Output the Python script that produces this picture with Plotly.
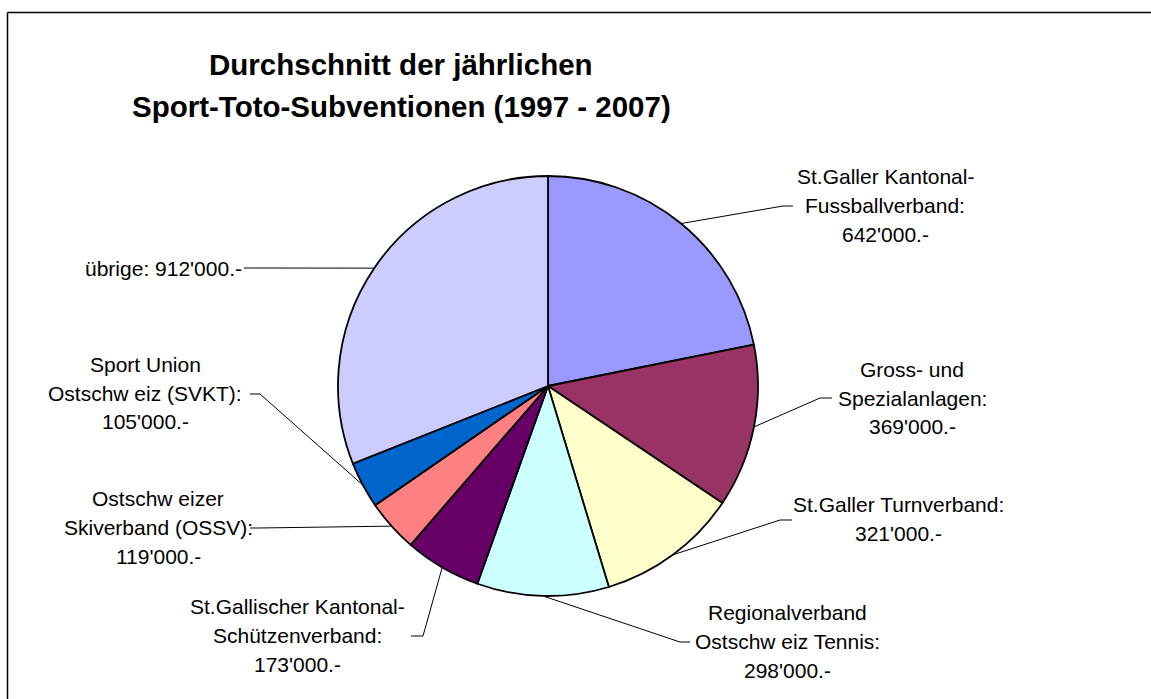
import math
import plotly.graph_objects as go

W, H = 1151, 699

# ---- data ----
categories = [
    "St.Galler Kantonal-Fussballverband",
    "Gross- und Spezialanlagen",
    "St.Galler Turnverband",
    "Regionalverband Ostschweiz Tennis",
    "St.Gallischer Kantonal-Schützenverband",
    "Ostschweizer Skiverband (OSSV)",
    "Sport Union Ostschweiz (SVKT)",
    "übrige",
]
values = [642000, 369000, 321000, 298000, 173000, 119000, 105000, 912000]
label_lines = [
    ["St.Galler Kantonal-", "Fussballverband:", "642'000.-"],
    ["Gross- und", "Spezialanlagen:", "369'000.-"],
    ["St.Galler Turnverband:", "321'000.-"],
    ["Regionalverband", "Ostschw eiz Tennis:", "298'000.-"],
    ["St.Gallischer Kantonal-", "Schützenverband:", "173'000.-"],
    ["Ostschw eizer", "Skiverband (OSSV):", "119'000.-"],
    ["Sport Union", "Ostschw eiz (SVKT):", "105'000.-"],
    ["übrige: 912'000.-"],
]
colors = ["#9999FF", "#993366", "#FFFFCC", "#CCFFFF",
          "#660066", "#FF8080", "#0066CC", "#CCCCFF"]
title_lines = ["Durchschnitt der jährlichen", "Sport-Toto-Subventionen (1997 - 2007)"]

# ---- layout constants (pixels) ----
CX, CY, R = 548, 386, 210
# label placement: (x, first line y, x anchor)
label_pos = [
    (885, 176, "center"),
    (912, 369, "center"),
    (898, 504, "center"),
    (787, 612, "center"),
    (298, 606, "center"),
    (158, 498, "center"),
    (145, 364, "center"),
    (244, 268, "right"),
]
# leader line elbow points and horizontal end points
leader_elbow = [
    (783, 206), (820, 398), (780, 520), (680, 642),
    (423, 636), (258, 528), (260, 394), (244, 268),
]
leader_end = [
    (793, 206), (832, 398), (792, 520), (690, 642),
    (411, 636), (250, 528), (250, 394), (244, 268),
]
LINE_H = 29

def px(x):
    return x / W

def py(y):
    return 1 - y / H

fig = go.Figure()
fig.add_trace(go.Pie(
    labels=categories,
    values=values,
    sort=False,
    direction="clockwise",
    rotation=0,
    marker=dict(colors=colors, line=dict(color="black", width=1.8)),
    textinfo="none",
    hoverinfo="label+value",
    showlegend=False,
    domain=dict(x=[px(CX - R), px(CX + R)], y=[py(CY + R), py(CY - R)]),
))

shapes = []
annotations = []

# frame (top and left edges visible)
shapes.append(dict(type="line", xref="paper", yref="paper",
                   x0=px(7.5), x1=1.0, y0=py(12.5), y1=py(12.5),
                   line=dict(color="black", width=1.5)))
shapes.append(dict(type="line", xref="paper", yref="paper",
                   x0=px(7.5), x1=px(7.5), y0=py(12.5), y1=0.0,
                   line=dict(color="black", width=1.5)))

total = sum(values)
cum = 0
for i, v in enumerate(values):
    mid = (cum + v / 2) / total * 2 * math.pi
    cum += v
    ex = CX + R * math.sin(mid)
    ey = CY - R * math.cos(mid)
    bx, by = leader_elbow[i]
    hx, hy = leader_end[i]
    path = f"M {px(ex)},{py(ey)} L {px(bx)},{py(by)} L {px(hx)},{py(hy)}"
    shapes.append(dict(type="path", xref="paper", yref="paper", path=path,
                       line=dict(color="black", width=1)))
    lx, ly, anchor = label_pos[i]
    for j, t in enumerate(label_lines[i]):
        annotations.append(dict(
            x=px(lx), y=py(ly + j * LINE_H), xref="paper", yref="paper",
            text=t, showarrow=False, xanchor=anchor, yanchor="middle",
            font=dict(family="Liberation Sans, Arial, sans-serif", size=21, color="black"),
        ))

for j, t in enumerate(title_lines):
    annotations.append(dict(
        x=px(401), y=py(65 + j * 41), xref="paper", yref="paper",
        text=f"<b>{t}</b>", showarrow=False, xanchor="center", yanchor="middle",
        font=dict(family="Liberation Sans, Arial, sans-serif", size=29.5, color="black"),
    ))

fig.update_layout(
    width=W, height=H,
    margin=dict(l=0, r=0, t=0, b=0),
    paper_bgcolor="white", plot_bgcolor="white",
    shapes=shapes, annotations=annotations,
)

fig.write_html(
    "out.html",
    config={"displayModeBar": False},
    post_script="document.body.style.margin='0px';document.body.style.overflow='hidden';",
)
